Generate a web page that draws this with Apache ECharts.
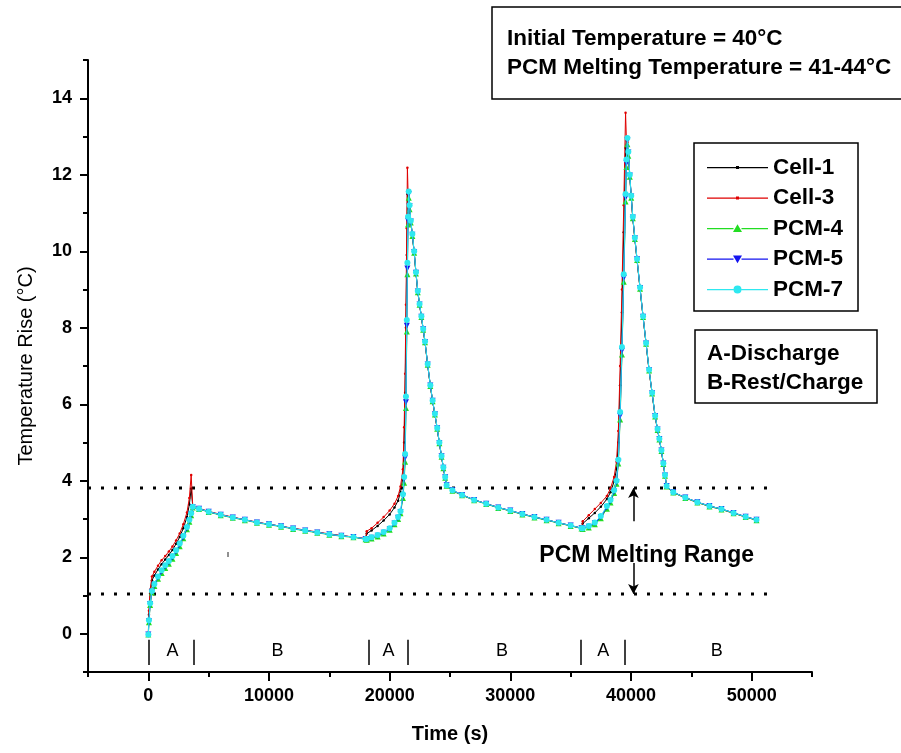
<!DOCTYPE html>
<html><head><meta charset="utf-8">
<script src="https://cdn.jsdelivr.net/npm/echarts@6/dist/echarts.min.js"></script>
<style>html,body{margin:0;padding:0;background:#fff}#c{width:901px;height:753px}</style>
</head><body><div id="c"></div>
<script>
// ---- data ----
const times = [
 0, 50, 150, 300, 500, 800, 1100, 1400, 1700, 2000, 2300, 2600, 2900, 3200, 3400, 3550, 3680,
 4200, 5000, 6000, 7000, 8000, 9000, 10000, 11000, 12000, 13000, 14000, 15000, 16000, 17000, 18000,
 18100, 18500, 19000, 19500, 20000, 20400, 20700, 20900, 21100, 21200, 21280, 21350, 21420, 21470, 21520, 21580,
 21650, 21750, 21880, 22030, 22180, 22330, 22480, 22630, 22780, 22930, 23150, 23370, 23560, 23750, 23940, 24120, 24300, 24450, 24600, 24720,
 25200, 26000, 27000, 28000, 29000, 30000, 31000, 32000, 33000, 34000, 35000, 35900,
 36000, 36500, 37000, 37500, 38000, 38300, 38600, 38800, 38950, 39100, 39250, 39400, 39550, 39620, 39700,
 39780, 39900, 40020, 40150, 40320, 40500, 40750, 41000, 41250, 41500, 41750, 42000, 42200, 42350, 42520, 42680, 42820, 42950,
 43500, 44500, 45500, 46500, 47500, 48500, 49500, 50400
];
const cell1 = [
 0.00, 0.50, 1.05, 1.40, 1.52, 1.68, 1.82, 1.94, 2.06, 2.19, 2.35, 2.53, 2.76, 3.05, 3.38, 3.80, 3.33,
 3.27, 3.19, 3.11, 3.04, 2.98, 2.91, 2.86, 2.81, 2.75, 2.70, 2.65, 2.60, 2.56, 2.53, 2.48,
 2.62, 2.70, 2.82, 2.96, 3.12, 3.30, 3.48, 3.70, 4.10, 5.00, 6.30, 8.00, 9.90, 11.50, 11.55, 11.50,
 11.18, 10.78, 10.43, 9.98, 9.43, 8.94, 8.60, 8.28, 7.95, 7.62, 7.03, 6.48, 6.08, 5.73, 5.36, 4.98, 4.63, 4.33, 4.08, 3.87,
 3.75, 3.63, 3.50, 3.40, 3.30, 3.22, 3.13, 3.05, 2.98, 2.90, 2.83, 2.76,
 2.88, 3.02, 3.16, 3.32, 3.52, 3.70, 3.98, 4.30, 5.00, 6.50, 8.40, 10.50, 12.70, 12.90, 12.90,
 12.58, 11.98, 11.43, 10.88, 10.33, 9.78, 9.03, 8.29, 7.59, 6.89, 6.29, 5.69, 5.34, 5.09, 4.79, 4.45, 4.14, 3.85,
 3.70, 3.56, 3.44, 3.34, 3.26, 3.16, 3.06, 2.98
];
const cell3 = [
 0.00, 0.60, 1.15, 1.50, 1.62, 1.78, 1.92, 2.03, 2.15, 2.28, 2.44, 2.62, 2.86, 3.17, 3.55, 4.15, 3.34,
 3.28, 3.20, 3.12, 3.05, 2.98, 2.92, 2.86, 2.81, 2.76, 2.71, 2.66, 2.61, 2.57, 2.53, 2.49,
 2.68, 2.76, 2.90, 3.05, 3.22, 3.40, 3.60, 3.85, 4.30, 5.40, 6.80, 8.60, 10.60, 12.18, 11.60, 11.50,
 11.15, 10.78, 10.42, 9.98, 9.42, 8.94, 8.60, 8.28, 7.95, 7.62, 7.03, 6.48, 6.08, 5.73, 5.36, 4.98, 4.63, 4.33, 4.08, 3.87,
 3.74, 3.62, 3.50, 3.40, 3.30, 3.21, 3.13, 3.05, 2.97, 2.90, 2.82, 2.76,
 2.94, 3.10, 3.26, 3.42, 3.60, 3.80, 4.10, 4.50, 5.30, 7.00, 9.00, 11.20, 13.62, 12.90, 12.85,
 12.55, 11.95, 11.40, 10.86, 10.32, 9.77, 9.02, 8.28, 7.58, 6.88, 6.28, 5.68, 5.33, 5.08, 4.78, 4.44, 4.13, 3.85,
 3.69, 3.55, 3.43, 3.33, 3.25, 3.15, 3.05, 2.97
];
const pcm4 = [
 -0.02, 0.30, 0.75, 1.08, 1.25, 1.44, 1.59, 1.72, 1.83, 1.96, 2.11, 2.29, 2.50, 2.73, 2.93, 3.10, 3.30,
 3.26, 3.18, 3.10, 3.03, 2.97, 2.90, 2.85, 2.80, 2.74, 2.69, 2.64, 2.59, 2.55, 2.52, 2.47,
 2.46, 2.49, 2.54, 2.62, 2.72, 2.86, 3.00, 3.15, 3.55, 3.95, 4.50, 5.90, 7.90, 9.40, 10.70, 11.40,
 11.10, 10.75, 10.40, 9.96, 9.42, 8.93, 8.60, 8.28, 7.95, 7.62, 7.03, 6.48, 6.08, 5.73, 5.36, 4.98, 4.63, 4.33, 4.08, 3.87,
 3.74, 3.62, 3.49, 3.39, 3.29, 3.21, 3.12, 3.04, 2.97, 2.89, 2.82, 2.75,
 2.74, 2.78, 2.86, 3.02, 3.27, 3.43, 3.68, 3.92, 4.45, 5.60, 7.30, 9.20, 11.30, 12.20, 12.80,
 12.50, 11.95, 11.40, 10.86, 10.32, 9.77, 9.02, 8.28, 7.58, 6.88, 6.28, 5.68, 5.33, 5.08, 4.78, 4.44, 4.13, 3.85,
 3.69, 3.55, 3.43, 3.33, 3.25, 3.15, 3.05, 2.97
];
const pcm5 = [
 -0.02, 0.33, 0.78, 1.10, 1.28, 1.48, 1.63, 1.76, 1.87, 2.00, 2.15, 2.33, 2.53, 2.76, 2.96, 3.13, 3.31,
 3.27, 3.19, 3.11, 3.04, 2.98, 2.91, 2.86, 2.81, 2.75, 2.70, 2.65, 2.60, 2.56, 2.53, 2.48,
 2.47, 2.51, 2.56, 2.64, 2.74, 2.88, 3.03, 3.18, 3.60, 4.05, 4.60, 6.05, 8.05, 9.55, 10.80, 11.50,
 11.18, 10.78, 10.43, 9.98, 9.44, 8.95, 8.61, 8.29, 7.96, 7.63, 7.04, 6.49, 6.09, 5.74, 5.37, 4.99, 4.64, 4.34, 4.09, 3.88,
 3.75, 3.63, 3.50, 3.40, 3.30, 3.22, 3.13, 3.05, 2.98, 2.90, 2.83, 2.76,
 2.75, 2.80, 2.89, 3.05, 3.31, 3.47, 3.72, 3.97, 4.50, 5.70, 7.40, 9.30, 11.40, 12.30, 12.90,
 12.58, 11.98, 11.43, 10.88, 10.34, 9.79, 9.04, 8.29, 7.59, 6.89, 6.29, 5.69, 5.34, 5.09, 4.79, 4.45, 4.14, 3.86,
 3.70, 3.56, 3.44, 3.34, 3.26, 3.16, 3.06, 2.98
];
const pcm7 = [
 -0.02, 0.35, 0.80, 1.12, 1.30, 1.50, 1.66, 1.79, 1.90, 2.03, 2.18, 2.36, 2.56, 2.79, 2.98, 3.15, 3.32,
 3.27, 3.19, 3.11, 3.04, 2.98, 2.91, 2.86, 2.81, 2.75, 2.70, 2.65, 2.60, 2.56, 2.53, 2.48,
 2.48, 2.52, 2.58, 2.66, 2.76, 2.90, 3.05, 3.20, 3.65, 4.10, 4.70, 6.20, 8.20, 9.70, 10.90, 11.56,
 11.20, 10.80, 10.45, 10.00, 9.45, 8.96, 8.62, 8.30, 7.97, 7.64, 7.05, 6.50, 6.10, 5.75, 5.38, 5.00, 4.65, 4.35, 4.10, 3.88,
 3.75, 3.63, 3.50, 3.40, 3.30, 3.22, 3.13, 3.05, 2.98, 2.90, 2.83, 2.76,
 2.76, 2.82, 2.91, 3.08, 3.34, 3.50, 3.75, 4.00, 4.55, 5.80, 7.50, 9.40, 11.50, 12.40, 12.96,
 12.60, 12.00, 11.45, 10.90, 10.35, 9.80, 9.05, 8.30, 7.60, 6.90, 6.30, 5.70, 5.35, 5.10, 4.80, 4.46, 4.15, 3.86,
 3.70, 3.56, 3.44, 3.34, 3.26, 3.16, 3.06, 2.98
];
const seriesNames = ['Cell-1', 'Cell-3', 'PCM-4', 'PCM-5', 'PCM-7'];
const xTicks = [0, 10000, 20000, 30000, 40000, 50000];
const yTicks = [0, 2, 4, 6, 8, 10, 12, 14];
const meltingRange = [1.04, 3.81];
const meltLineEnd = 51500;
const phaseLabels = ['A', 'B', 'A', 'B', 'A', 'B'];
const phaseLabelTimes = [2000, 10700, 19900, 29300, 37700, 47100];
const phaseBoundTimes = [0, 3800, 18300, 21500, 35800, 39500];
const arrowTime = 40200;
const arrowStarts = [2.94, 1.85];
const rangeLabelPos = [41300, 2.05];

// ---- styling ----
const FONT = "'Liberation Sans', Arial, Helvetica, sans-serif";
const X_MIN = -5000, X_MAX = 55000, Y_MIN = -1, Y_MAX = 15;
// legend icons: 61x14 box (corner specks fix the bounding box), line + marker
const CORNERS = 'M0,0h0.01v0.01h-0.01z M61,14h-0.01v-0.01h0.01z ';
const LINE_L = 'M0,6.4h26.5v1.3h-26.5z ', LINE_R = 'M34.5,6.4h26.5v1.3h-26.5z ';
const DOT_ICON = 'path://' + CORNERS + 'M0,6.4h29h0v1.3h-29z M32,6.4h29v1.3h-29z M29,5.5h3v3h-3z';
const styles = [
  {color: '#000000', symbol: 'circle', size: 2.5, rotate: 0, icon: DOT_ICON},
  {color: '#e00000', symbol: 'circle', size: 2.5, rotate: 0, icon: DOT_ICON},
  {color: '#22dd22', symbol: 'triangle', size: 6, rotate: 0,
   icon: 'path://' + CORNERS + LINE_L + LINE_R + 'M30.5,2.8 L35,10.6 L26,10.6 Z'},
  {color: '#1414f0', symbol: 'triangle', size: 6, rotate: 180,
   icon: 'path://' + CORNERS + LINE_L + LINE_R + 'M26,3.4 L35,3.4 L30.5,11.2 Z'},
  {color: '#2ee8f0', symbol: 'circle', size: 6, rotate: 0,
   icon: 'path://' + CORNERS + LINE_L + LINE_R + 'M26.5,7 A4,4 0 1,1 34.5,7 A4,4 0 1,1 26.5,7 Z'}
];
const valuesList = [cell1, cell3, pcm4, pcm5, pcm7];

const chart = echarts.init(document.getElementById('c'), null, {renderer: 'canvas'});
const grid = {left: 88, right: 89, top: 60, bottom: 81};

const dataSeries = seriesNames.map((name, k) => ({
  name, type: 'line', xAxisIndex: 0, yAxisIndex: 0,
  data: times.map((t, i) => [t, valuesList[k][i]]),
  symbol: styles[k].symbol, symbolSize: styles[k].size, symbolRotate: styles[k].rotate,
  showSymbol: true, showAllSymbol: true,
  lineStyle: {color: styles[k].color, width: 1},
  itemStyle: {color: styles[k].color},
  z: 3 + k, animation: false, silent: true
}));

const dottedSeries = meltingRange.map(v => ({
  type: 'line', xAxisIndex: 0, yAxisIndex: 0,
  data: [[X_MIN, v], [meltLineEnd, v]],
  symbol: 'none',
  lineStyle: {color: '#000', width: 3, type: [3, 10], cap: 'butt'},
  z: 2, animation: false, silent: true
}));

const annotationSeries = {
  type: 'scatter', xAxisIndex: 0, yAxisIndex: 0,
  data: phaseLabelTimes.map((t, i) => ({value: [t, -0.45], label: {formatter: phaseLabels[i]}})),
  symbolSize: 0, animation: false, silent: true,
  itemStyle: {opacity: 1},
  label: {show: true, position: 'inside', color: '#000', fontSize: 18, fontFamily: FONT},
  markLine: {
    silent: true, animation: false, symbol: 'none', label: {show: false},
    lineStyle: {color: '#000', width: 1.5, type: 'solid', opacity: 1},
    data: phaseBoundTimes.map(t => [{coord: [t, -0.16]}, {coord: [t, -0.82]}])
  }
};
const arrowSeries = {
  type: 'scatter', xAxisIndex: 0, yAxisIndex: 0,
  data: [{value: rangeLabelPos, label: {formatter: 'PCM Melting Range'}}],
  symbolSize: 0, animation: false, silent: true,
  itemStyle: {opacity: 1},
  label: {show: true, position: 'inside', color: '#000', fontSize: 23, fontWeight: 'bold', fontFamily: FONT},
  markLine: {
    silent: true, animation: false, symbol: ['none', 'arrow'], symbolSize: [8, 10], label: {show: false},
    lineStyle: {color: '#000', width: 1.5, type: 'solid', opacity: 1},
    data: [
      [{coord: [arrowTime, arrowStarts[0]]}, {coord: [arrowTime, meltingRange[1]]}],
      [{coord: [arrowTime, arrowStarts[1]]}, {coord: [arrowTime, meltingRange[0]]}]
    ]
  }
};

const boldText = {fontFamily: FONT, fontWeight: 'bold', fontSize: 22.5, fill: '#000'};
const plainNum = v => String(v);

chart.setOption({
  backgroundColor: '#fff',
  animation: false,
  grid: [grid, Object.assign({}, grid)],
  legend: {
    data: seriesNames.map((n, k) => ({name: n, icon: styles[k].icon})),
    orient: 'vertical', left: 694, top: 143,
    padding: [13, 15, 10, 13], itemGap: 7.5, itemWidth: 61, itemHeight: 14,
    symbolRotate: 0,
    itemStyle: {borderWidth: 0},
    borderColor: '#000', borderWidth: 1.5, backgroundColor: '#fff',
    textStyle: {fontFamily: FONT, fontWeight: 'bold', fontSize: 22.5, color: '#000', lineHeight: 22},
    selectedMode: false
  },
  xAxis: [
    {type: 'value', gridIndex: 0, min: X_MIN, max: X_MAX,
     name: 'Time (s)', nameLocation: 'middle', nameGap: 52,
     nameTextStyle: {fontFamily: FONT, fontWeight: 'bold', fontSize: 20, color: '#000'},
     axisLine: {show: true, onZero: false, lineStyle: {color: '#000', width: 2}},
     axisTick: {show: true, customValues: xTicks, length: 9, lineStyle: {color: '#000', width: 2}},
     axisLabel: {customValues: xTicks, formatter: plainNum, margin: 15, fontFamily: FONT, fontWeight: 'bold', fontSize: 18, color: '#000'},
     splitLine: {show: false}},
    {type: 'value', gridIndex: 1, min: X_MIN, max: X_MAX, interval: 5000, position: 'bottom',
     axisLine: {show: false, onZero: false}, axisTick: {show: true, length: 5, lineStyle: {color: '#000', width: 2}},
     axisLabel: {show: false}, splitLine: {show: false}}
  ],
  yAxis: [
    {type: 'value', gridIndex: 0, min: Y_MIN, max: Y_MAX,
     name: 'Temperature Rise (°C)', nameLocation: 'middle', nameGap: 52,
     nameTextStyle: {fontFamily: FONT, fontSize: 20, color: '#000'},
     axisLine: {show: true, onZero: false, lineStyle: {color: '#000', width: 2}},
     axisTick: {show: true, customValues: yTicks, length: 8, lineStyle: {color: '#000', width: 2}},
     axisLabel: {customValues: yTicks, formatter: plainNum, margin: 16, fontFamily: FONT, fontWeight: 'bold', fontSize: 18, color: '#000'},
     splitLine: {show: false}},
    {type: 'value', gridIndex: 1, min: Y_MIN, max: Y_MAX, interval: 1, position: 'left',
     axisLine: {show: false, onZero: false}, axisTick: {show: true, length: 5, lineStyle: {color: '#000', width: 2}},
     axisLabel: {show: false}, splitLine: {show: false}}
  ],
  series: [...dottedSeries, annotationSeries, arrowSeries, ...dataSeries],
  graphic: [
    {type: 'rect', shape: {x: 492, y: 7, width: 430, height: 92},
     style: {fill: '#fff', stroke: '#000', lineWidth: 1.5}, z: 10},
    {type: 'text', x: 507, y: 39, style: Object.assign({text: 'Initial Temperature = 40°C', verticalAlign: 'middle'}, boldText), z: 11},
    {type: 'text', x: 507, y: 68, style: Object.assign({text: 'PCM Melting Temperature = 41-44°C', verticalAlign: 'middle'}, boldText), z: 11},
    {type: 'rect', shape: {x: 695, y: 330, width: 182, height: 73},
     style: {fill: '#fff', stroke: '#000', lineWidth: 1.5}, z: 10},
    {type: 'text', x: 707, y: 354, style: Object.assign({text: 'A-Discharge', verticalAlign: 'middle'}, boldText), z: 11},
    {type: 'text', x: 707, y: 383, style: Object.assign({text: 'B-Rest/Charge', verticalAlign: 'middle'}, boldText), z: 11},
    {type: 'line', shape: {x1: 228, y1: 552, x2: 228, y2: 557}, style: {stroke: '#222', lineWidth: 1}, z: 5}
  ]
});
</script>
</body></html>
